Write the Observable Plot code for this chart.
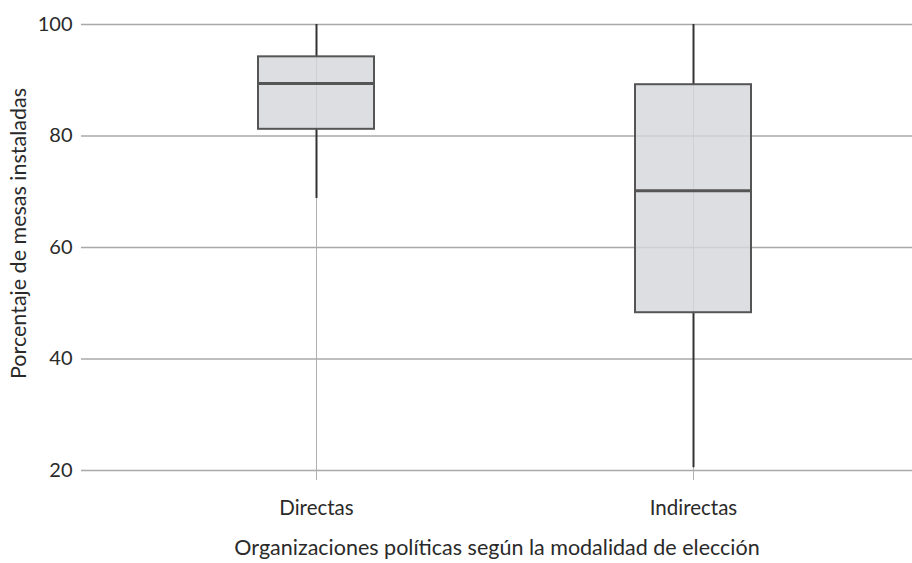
<!DOCTYPE html>
<html>
<head>
<meta charset="utf-8">
<script src="https://cdn.jsdelivr.net/npm/d3@7"></script>
<script src="https://cdn.jsdelivr.net/npm/@observablehq/plot@0.6"></script>
<style>
  html, body { margin: 0; padding: 0; background: #fff; }
</style>
</head>
<body>
<div id="chart"></div>
<script>
const categories = ["Directas", "Indirectas"];
const whiskerLow = [68.8, 20.5];
const q1 = [81.2, 48.3];
const median = [89.4, 70.2];
const q3 = [94.2, 89.2];
const whiskerHigh = [100, 100];
const yTicks = [20, 40, 60, 80, 100];
const xTitle = "Organizaciones políticas según la modalidad de elección";
const yTitle = "Porcentaje de mesas instaladas";

const data = categories.map((c, i) => ({
  cat: c, lo: whiskerLow[i], q1: q1[i], med: median[i], q3: q3[i], hi: whiskerHigh[i]
}));

const chart = Plot.plot({
  width: 912,
  height: 563,
  marginTop: 24,
  marginBottom: 93,
  marginLeft: 81,
  marginRight: 0,
  style: { fontFamily: "Lato, sans-serif", fontSize: "20px", color: "#333", background: "#fff" },
  x: { type: "band", domain: categories, paddingInner: 0.693, paddingOuter: 0.426, insetLeft: 15 },
  y: { domain: [20, 100] },
  marks: [
    Plot.gridY(yTicks, { stroke: "#a9a9a9", strokeOpacity: 1, strokeWidth: 1.3 }),
    Plot.gridX(categories, { stroke: "#b0b0b0", strokeOpacity: 1, strokeWidth: 1 }),
    Plot.axisX({ tickSize: 10, stroke: "#b0b0b0", tickPadding: 20, fontSize: 20.5, fill: "#2a2a2a", label: null }),
    Plot.axisY(yTicks, { tickSize: 0, tickPadding: 9, fontSize: 20, fill: "#2a2a2a", label: null }),
    Plot.ruleX(data, { x: "cat", y1: "lo", y2: "q1", stroke: "#333", strokeWidth: 2 }),
    Plot.ruleX(data, { x: "cat", y1: "q3", y2: "hi", stroke: "#333", strokeWidth: 2 }),
    Plot.barY(data, { x: "cat", y1: "q1", y2: "q3", fill: "#d6d7da", fillOpacity: 0.82, stroke: "#555", strokeWidth: 2 }),
    Plot.tickY(data, { x: "cat", y: "med", stroke: "#555", strokeWidth: 3 }),
    Plot.text([xTitle], { frameAnchor: "bottom", dy: 84, fontSize: 21.5, fill: "#2a2a2a" }),
    Plot.text([yTitle], { frameAnchor: "left", textAnchor: "middle", dx: -62, dy: -14, rotate: -90, fontSize: 21.5, fill: "#2a2a2a" })
  ]
});
document.getElementById("chart").appendChild(chart);
</script>
</body>
</html>
